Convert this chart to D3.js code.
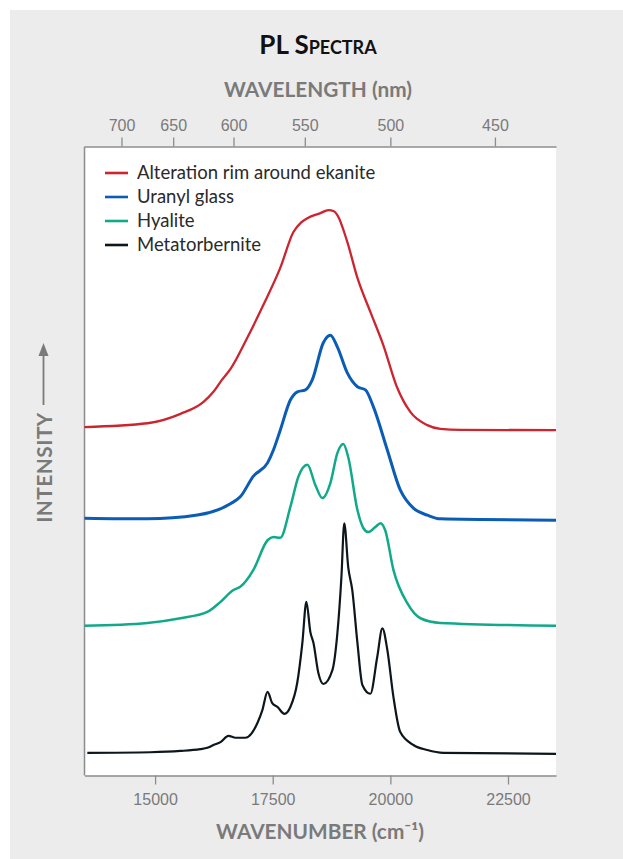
<!DOCTYPE html>
<html><head><meta charset="utf-8">
<script src="https://cdn.jsdelivr.net/npm/d3@7"></script>
<style>
html,body{margin:0;padding:0;background:#fff;}
svg{display:block;}
</style></head>
<body>
<script>
// ---- Data ----
const seriesNames = ["Alteration rim around ekanite", "Uranyl glass", "Hyalite", "Metatorbernite"];
const seriesColors = ["#cc2530", "#0b5cb5", "#12a98a", "#0d161b"];
const wavenumberTicks = [15000, 17500, 20000, 22500];
const wavelengthTicks = [700, 650, 600, 550, 500, 450];

// [wavenumber (cm-1), intensity (arb., offset)]
const rimData = [
  [13500,55.4],[14840,56.0],[15540,57.5],[16030,59.4],[16240,61.0],[16420,62.9],[16600,64.6],
  [16960,69.6],[17300,74.8],[17660,80.7],[17940,86.4],[18100,87.9],[18237,88.6],[18513,89.4],
  [18683,89.9],[18800,89.7],[18874,89.1],[19086,84.8],[19300,79.1],[19575,73.7],[19851,68.4],
  [20148,61.6],[20424,57.8],[20785,55.7],[21061,55.1],[21500,54.95],[23520,54.9]
];
const glassData = [
  [13500,40.9],[14840,40.8],[15900,41.4],[16600,43.2],[16810,44.3],[17090,47.6],[17390,49.7],
  [17515,51.75],[17660,54.9],[17875,59.7],[18025,61.0],[18195,61.3],[18340,62.9],[18575,68.8],
  [18725,70.0],[18875,68.1],[19085,64.0],[19300,61.8],[19470,61.3],[19640,58.6],[19935,51.75],
  [20210,45.4],[20490,42.5],[20785,41.4],[21060,40.8],[23520,40.6]
];
const hyaliteData = [
  [13500,23.8],[14840,24.25],[15540,25.0],[16110,26.0],[16390,27.6],[16665,29.5],[16810,30.0],
  [17090,32.7],[17390,37.4],[17515,37.9],[17660,37.8],[17875,42.7],[18045,47.5],[18237,49.4],
  [18405,46.2],[18555,44.1],[18725,46.5],[18875,51.3],[19000,52.7],[19105,50.6],[19300,42.2],
  [19425,39.35],[19530,38.7],[19680,39.5],[19790,40.1],[19890,39.0],[20065,32.7],[20360,27.4],
  [20640,25.0],[21060,24.25],[23520,23.8]
];
const metaData = [
  [13560,3.6],[14900,3.7],[15540,3.9],[15960,4.2],[16110,4.4],[16240,4.85],[16390,5.3],
  [16560,6.3],[16710,6.0],[16920,6.0],[17175,8.35],[17280,10.4],[17390,13.3],[17490,11.5],
  [17600,10.9],[17750,9.8],[17875,10.9],[18020,14.7],[18130,21.1],[18215,27.6],[18300,22.8],
  [18365,21.1],[18470,16.3],[18575,14.55],[18770,16.8],[18875,22.7],[18960,31.6],[19020,40.1],
  [19105,33.1],[19190,29.5],[19300,21.1],[19405,14.4],[19575,13.0],[19720,18.8],[19830,23.4],
  [19935,20.0],[20065,12.5],[20210,6.9],[20490,4.85],[20785,4.05],[21125,3.6],[23520,3.45]
];
const allSeries = [rimData, glassData, hyaliteData, metaData];

// ---- Layout ----
const W = 623, H = 859;
const plot = {left: 84.5, right: 556, top: 146.5, bottom: 775.5};
const svg = d3.select("body").append("svg").attr("width", W).attr("height", H);

svg.append("rect").attr("x", 10).attr("y", 10).attr("width", W - 10).attr("height", H - 10).attr("fill", "#ececec");
svg.append("rect").attr("x", plot.left).attr("y", plot.top)
  .attr("width", plot.right - plot.left).attr("height", plot.bottom - plot.top).attr("fill", "#fff");

const x = d3.scaleLinear().domain([13500, 23520]).range([plot.left, plot.right]);
const y = d3.scaleLinear().domain([0, 100]).range([plot.bottom, plot.top]);

const axisColor = "#8c8c8c";
const tickFont = "'Liberation Sans', Arial, sans-serif";

// bottom axis
const gB = svg.append("g").attr("transform", `translate(0,${plot.bottom})`)
  .call(d3.axisBottom(x).tickValues(wavenumberTicks).tickSize(9).tickSizeOuter(0).tickPadding(9).tickFormat(d3.format("d")));
// top axis (wavelength)
const gT = svg.append("g").attr("transform", `translate(0,${plot.top})`)
  .call(d3.axisTop(x).tickValues(wavelengthTicks.map(l => 1e7 / l)).tickSize(9).tickSizeOuter(0).tickPadding(7)
    .tickFormat(v => Math.round(1e7 / v)));
[gB, gT].forEach(g => {
  g.select(".domain").attr("stroke", axisColor).attr("stroke-width", 1.5);
  g.selectAll(".tick line").attr("stroke", axisColor).attr("stroke-width", 1.3);
  g.selectAll(".tick text").attr("fill", "#7a7a7a").attr("font-size", 16).attr("font-family", tickFont);
});
// left axis line
svg.append("line").attr("x1", plot.left).attr("x2", plot.left).attr("y1", plot.top).attr("y2", plot.bottom)
  .attr("stroke", axisColor).attr("stroke-width", 1.5);

// ---- lines ----
const widths = [2.3, 3, 2.5, 2.2];
allSeries.forEach((data, i) => {
  const line = d3.line().x(d => x(d[0])).y(d => y(d[1])).curve(d3.curveMonotoneX);
  svg.append("path").datum(data).attr("d", line).attr("fill", "none")
    .attr("stroke", seriesColors[i]).attr("stroke-width", widths[i]).attr("stroke-linejoin", "round");
});

// ---- legend ----
const legFont = "Lato, 'Open Sans', sans-serif";
seriesNames.forEach((n, i) => {
  const yy = 173 + i * 24;
  svg.append("line").attr("x1", 105).attr("x2", 128).attr("y1", yy).attr("y2", yy)
    .attr("stroke", seriesColors[i]).attr("stroke-width", 2.6);
  svg.append("text").attr("x", 137).attr("y", yy + 6).text(n)
    .attr("font-family", legFont).attr("font-size", 18.5).attr("fill", "#2a2a2a");
});

// ---- titles ----
svg.append("text").attr("x", 318).attr("y", 54).attr("text-anchor", "middle")
  .attr("font-family", legFont).attr("font-weight", "bold").attr("font-size", 26)
  .style("font-variant", "small-caps").attr("fill", "#111").text("PL Spectra");
svg.append("text").attr("x", 318).attr("y", 96.5).attr("text-anchor", "middle")
  .attr("font-family", legFont).attr("font-weight", "bold").attr("font-size", 20.8)
  .attr("fill", "#7a7a7a").text("WAVELENGTH (nm)");
svg.append("text").attr("x", 320).attr("y", 838.5).attr("text-anchor", "middle")
  .attr("font-family", legFont).attr("font-weight", "bold").attr("font-size", 20.8)
  .attr("fill", "#7a7a7a").text("WAVENUMBER (cm⁻¹)");
svg.append("text").attr("transform", "translate(51.5,467.5) rotate(-90)").attr("text-anchor", "middle")
  .attr("font-family", legFont).attr("font-weight", "bold").attr("font-size", 20.8)
  .attr("fill", "#7a7a7a").attr("letter-spacing", 0.5).text("INTENSITY");
// arrow
svg.append("line").attr("x1", 43.5).attr("x2", 43.5).attr("y1", 405).attr("y2", 352)
  .attr("stroke", "#7a7a7a").attr("stroke-width", 1.8);
svg.append("path").attr("d", "M43.5,343 L38.5,356 L48.5,356 Z").attr("fill", "#7a7a7a");
</script>
</body></html>
